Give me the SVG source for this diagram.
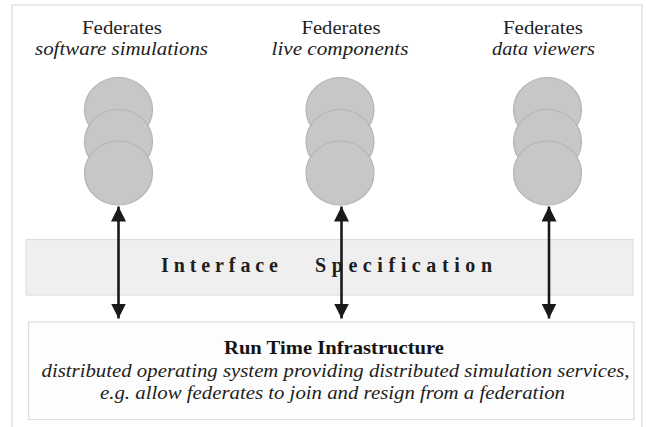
<svg xmlns="http://www.w3.org/2000/svg" width="646" height="427" viewBox="0 0 646 427">
  <style>
    .frame { fill: #ffffff; stroke: #dadada; stroke-width: 1.2; }
    text { font-family: 'Liberation Serif', Tinos, 'Times New Roman', serif; }
    .fed { font-size: 18.5px; fill: #1e1e1e; text-anchor: middle; }
    .sub { font-size: 18.5px; font-style: italic; fill: #1e1e1e; text-anchor: middle; }
    .disc { fill: #c7c7c7; stroke: #b4b4b4; stroke-width: 1.2; }
    .iface-box { fill: #efefef; stroke: #dedede; stroke-width: 1.2; }
    .iface-txt { font-size: 20px; font-weight: bold; fill: #1e1e1e; }
    .rti-box { fill: #fdfdfd; stroke: #dedede; stroke-width: 1.2; }
    .rti-title { font-size: 19px; font-weight: bold; fill: #141414; text-anchor: middle; }
    .rti-desc { font-size: 19px; font-style: italic; fill: #1e1e1e; text-anchor: middle; }
    .link { stroke: #1a1a1a; stroke-width: 2.6; fill: none; marker-start: url(#head); marker-end: url(#head); }
  </style>
  <defs>
    <marker id="head" viewBox="0 0 10 10" refX="10" refY="5" markerUnits="userSpaceOnUse" markerWidth="15" markerHeight="15" orient="auto-start-reverse">
      <path d="M0,0 L10,5 L0,10 Z" fill="#1a1a1a"/>
    </marker>
  </defs>

  <rect class="frame" x="12" y="5" width="630" height="440"/>

  <!-- federate stacks -->
  <g id="fed-software">
    <text class="fed" x="122" y="34" textLength="80" lengthAdjust="spacingAndGlyphs">Federates</text>
    <text class="sub" x="121.5" y="55" textLength="173" lengthAdjust="spacingAndGlyphs">software simulations</text>
    <ellipse class="disc" cx="118.5" cy="109.5" rx="34" ry="32"/>
    <ellipse class="disc" cx="118.5" cy="141.5" rx="34" ry="32"/>
    <ellipse class="disc" cx="118.5" cy="173" rx="34" ry="32"/>
  </g>
  <g id="fed-live">
    <text class="fed" x="341" y="34" textLength="79" lengthAdjust="spacingAndGlyphs">Federates</text>
    <text class="sub" x="340" y="55" textLength="137" lengthAdjust="spacingAndGlyphs">live components</text>
    <ellipse class="disc" cx="340" cy="109.5" rx="34" ry="32"/>
    <ellipse class="disc" cx="340" cy="141.5" rx="34" ry="32"/>
    <ellipse class="disc" cx="340" cy="173" rx="34" ry="32"/>
  </g>
  <g id="fed-viewers">
    <text class="fed" x="543" y="34" textLength="80" lengthAdjust="spacingAndGlyphs">Federates</text>
    <text class="sub" x="543.5" y="55" textLength="103" lengthAdjust="spacingAndGlyphs">data viewers</text>
    <ellipse class="disc" cx="547.5" cy="109.5" rx="34" ry="32"/>
    <ellipse class="disc" cx="547.5" cy="141.5" rx="34" ry="32"/>
    <ellipse class="disc" cx="547.5" cy="173" rx="34" ry="32"/>
  </g>

  <!-- interface layer -->
  <g id="interface">
    <rect class="iface-box" x="26" y="239.5" width="607" height="55.5"/>
    <text class="iface-txt" x="161" y="272" textLength="117" lengthAdjust="spacing">Interface</text>
    <text class="iface-txt" x="315" y="272" textLength="177" lengthAdjust="spacing">Specification</text>
  </g>

  <!-- runtime infrastructure -->
  <g id="rti">
    <rect class="rti-box" x="28.5" y="322" width="605.5" height="97.5"/>
    <text class="rti-title" x="334" y="353.5" textLength="220" lengthAdjust="spacingAndGlyphs">Run Time Infrastructure</text>
    <text class="rti-desc" x="335.5" y="377" textLength="588" lengthAdjust="spacingAndGlyphs">distributed operating system providing distributed simulation services,</text>
    <text class="rti-desc" x="332.5" y="398.5" textLength="465" lengthAdjust="spacingAndGlyphs">e.g. allow federates to join and resign from a federation</text>
  </g>

  <!-- connectors -->
  <g id="connectors">
    <line class="link" x1="118.5" y1="206.5" x2="118.5" y2="318.5"/>
    <line class="link" x1="341.5" y1="206.5" x2="341.5" y2="318.5"/>
    <line class="link" x1="549" y1="206.5" x2="549" y2="318.5"/>
  </g>
</svg>
